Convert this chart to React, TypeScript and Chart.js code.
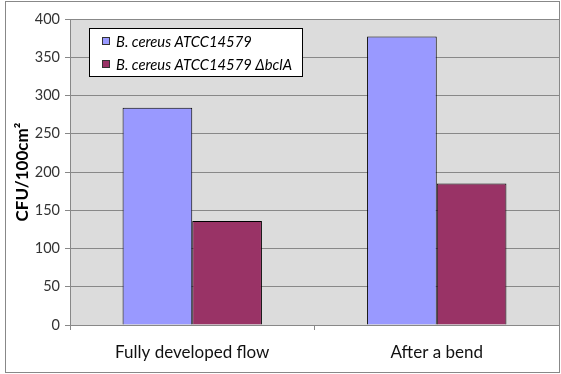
import React, { useEffect, useRef } from 'react';
import { Chart, registerables } from 'chart.js';

Chart.register(...registerables);

const categories: string[] = ['Fully developed flow', 'After a bend'];
const seriesNames: string[] = ['B. cereus ATCC14579', 'B. cereus ATCC14579 \u0394bclA'];
const wildTypeValues: number[] = [284, 377];
const mutantValues: number[] = [136, 185];
const seriesColors: string[] = ['#9999FF', '#993366'];
const yAxisTitle = 'CFU/100cm\u00B2';
const yMin = 0;
const yMax = 400;
const yStep = 50;

const FONT = "Lato, 'DejaVu Sans', sans-serif";

const decorPlugin = {
  id: 'decor',
  beforeDraw(chart: any) {
    const { ctx, chartArea: a, width, height } = chart;
    ctx.save();
    ctx.fillStyle = '#ffffff';
    ctx.fillRect(0, 0, width, height);
    ctx.fillStyle = '#DCDCDC';
    ctx.fillRect(a.left, a.top, a.right - a.left, a.bottom - a.top);
    ctx.strokeStyle = '#888888';
    ctx.lineWidth = 1;
    ctx.strokeRect(5.5, 1.5, width - 7, height - 3);
    ctx.restore();
  },
  afterDraw(chart: any) {
    const { ctx } = chart;
    const bx = 89.5, by = 28.5, bw = 213, bh = 48;
    ctx.save();
    ctx.fillStyle = '#ffffff';
    ctx.fillRect(bx, by, bw, bh);
    ctx.strokeStyle = '#000000';
    ctx.lineWidth = 1;
    ctx.strokeRect(bx, by, bw, bh);
    ctx.font = `italic 14.8px ${FONT}`;
    ctx.textBaseline = 'middle';
    ctx.textAlign = 'left';
    const rows = [41, 64];
    chart.data.datasets.forEach((ds: any, i: number) => {
      const cy = rows[i];
      ctx.fillStyle = ds.backgroundColor;
      ctx.fillRect(102, cy - 4, 8, 8);
      ctx.strokeStyle = '#333';
      ctx.strokeRect(102.5, cy - 3.5, 7, 7);
      ctx.fillStyle = '#000';
      ctx.fillText(ds.label, 116, cy + 1);
    });
    ctx.restore();
  },
};

export default function App() {
  const ref = useRef<HTMLCanvasElement | null>(null);

  useEffect(() => {
    document.body.style.margin = '0';
    if (!ref.current) return;
    const chart = new Chart(ref.current, {
      type: 'bar',
      data: {
        labels: categories,
        datasets: [
          {
            label: seriesNames[0],
            data: wildTypeValues,
            backgroundColor: seriesColors[0],
            borderColor: '#000000',
            borderWidth: 1,
            barPercentage: 1,
            categoryPercentage: 0.57,
          },
          {
            label: seriesNames[1],
            data: mutantValues,
            backgroundColor: seriesColors[1],
            borderColor: '#000000',
            borderWidth: 1,
            barPercentage: 1,
            categoryPercentage: 0.57,
          },
        ],
      },
      options: {
        animation: false,
        responsive: false,
        devicePixelRatio: 1,
        layout: { padding: { left: 0, top: 19, right: 2, bottom: 0 } },
        plugins: {
          legend: { display: false },
          tooltip: { enabled: false },
        },
        scales: {
          x: {
            grid: { offset: true, drawOnChartArea: false, drawTicks: true, tickLength: 5, color: '#888888' },
            border: { color: '#888888' },
            ticks: { font: { family: FONT, size: 17 }, color: '#111111', padding: 12 },
            afterFit(s: any) { s.height = 49; },
          },
          y: {
            min: yMin,
            max: yMax,
            ticks: { stepSize: yStep, font: { family: FONT, size: 14.5 }, color: '#333333', padding: 5 },
            grid: { color: '#888888', tickLength: 5 },
            border: { color: '#888888' },
            title: {
              display: true,
              text: yAxisTitle,
              font: { family: FONT, size: 17, weight: 'bold' },
              color: '#000000',
              padding: { top: 12, bottom: 0 },
            },
            afterFit(s: any) { s.width = 70; },
          },
        },
      },
      plugins: [decorPlugin],
    } as any);
    return () => chart.destroy();
  }, []);

  return (
    <div style={{ position: 'absolute', left: 0, top: 0, width: 561, height: 374 }}>
      <canvas ref={ref} width={561} height={374} />
    </div>
  );
}
